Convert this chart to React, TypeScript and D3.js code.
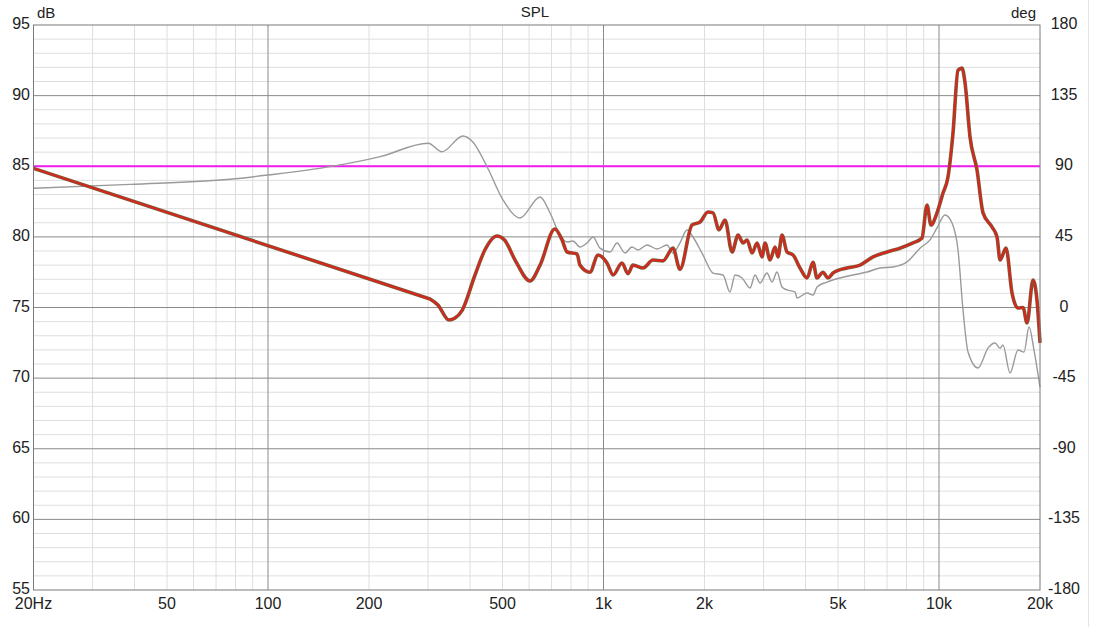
import React from "react";
import * as d3 from "d3";

// SPL trace (red): frequency in Hz, level in dB
const splFreq = [
  20, 304, 321, 346, 361, 379, 414, 443, 481, 507, 545, 604, 647, 716, 752, 779, 834, 851, 911, 963,
  1024, 1068, 1135, 1183, 1224, 1312, 1405, 1504, 1611, 1690, 1836, 1940, 2048, 2120, 2210, 2302,
  2416, 2518, 2606, 2679, 2772, 2869, 2969, 3030, 3136, 3246, 3312, 3404, 3524, 3672, 3852, 4043,
  4212, 4329, 4510, 4668, 4831, 5318, 5815, 6359, 6998, 7648, 8366, 8898, 9208, 9464, 9863, 10278,
  10636, 11008, 11393, 11711, 11956, 12372, 12981, 13528, 14388, 14891, 15202, 15837, 16504, 17200,
  17802, 18294, 19061, 19590, 20000,
];
const splDb = [
  84.85, 75.6, 75.18, 74.12, 74.26, 74.8, 77.3, 79.07, 80.06, 79.78, 78.36, 76.88, 78.0, 80.56, 79.8,
  78.93, 78.79, 78.0, 77.5, 78.72, 78.15, 77.3, 78.15, 77.4, 78.0, 77.8, 78.36, 78.3, 79.2, 77.7,
  80.84, 81.05, 81.76, 81.7, 80.5, 81.2, 78.93, 80.13, 79.57, 79.78, 78.86, 79.57, 78.58, 79.57,
  78.36, 79.28, 78.58, 80.13, 78.93, 78.72, 77.8, 77.09, 78.2, 77.09, 77.5, 77.09, 77.44, 77.8, 78.0,
  78.58, 78.93, 79.2, 79.57, 79.92, 82.26, 80.84, 81.7, 83.1, 84.24, 87.35, 91.8, 91.95, 90.9, 87.07,
  84.73, 81.7, 80.7, 79.99, 78.36, 79.2, 76.03, 74.96, 75.0, 73.9, 76.95, 75.5, 72.5,
];

// second trace (grey)
const refFreq = [
  20, 38.8, 77, 100, 153, 216, 300, 330, 381, 408, 450, 502, 564, 647, 693, 742, 779, 811, 851, 893,
  931, 976, 1046, 1097, 1159, 1216, 1267, 1348, 1444, 1546, 1611, 1690, 1773, 1848, 1979, 2120, 2271,
  2382, 2466, 2588, 2734, 2829, 2928, 3071, 3179, 3290, 3404, 3524, 3722, 3773, 4043, 4212, 4329,
  4636, 5068, 5542, 6102, 6672, 7293, 8030, 8778, 9403, 9863, 10420, 10935, 11393, 11792, 12204,
  13074, 13996, 14688, 15202, 15512, 16276, 17200, 17924, 18550, 19192, 20000,
];
const refDb = [
  83.44, 83.72, 84.08, 84.38, 84.97, 85.68, 86.63, 86.03, 87.14, 86.72, 84.95, 82.61, 81.34, 82.82,
  81.69, 80.13, 79.64, 79.71, 79.28, 79.57, 79.99, 79.2, 78.93, 79.57, 78.86, 79.28, 79.07, 79.43,
  79.14, 79.43, 78.86, 79.57, 80.49, 79.99, 78.72, 77.44, 77.3, 76.1, 77.3, 77.09, 76.38, 77.3,
  76.73, 77.44, 76.8, 77.51, 76.45, 76.24, 76.1, 75.67, 76.03, 75.88, 76.45, 76.8, 77.09, 77.3,
  77.51, 77.8, 77.87, 78.23, 79.2, 79.79, 80.63, 81.55, 80.98, 79.07, 74.82, 71.85, 70.72, 72.12,
  72.49, 72.12, 72.35, 70.36, 71.99, 71.85, 73.62, 71.99, 69.37,
];

const targetDb = 85;

const dbTicks = [95, 90, 85, 80, 75, 70, 65, 60, 55];
const degTicks = [180, 135, 90, 45, 0, -45, -90, -135, -180];
const freqTicks = [20, 50, 100, 200, 500, 1000, 2000, 5000, 10000, 20000];
const freqLabels = ["20Hz", "50", "100", "200", "500", "1k", "2k", "5k", "10k", "20k"];

const W = 1093;
const H = 627;
const left = 33.5;
const right = 1040;
const top = 25;
const bottom = 590;
const font = "'Liberation Sans', Arial, sans-serif";

export default function App() {
  const x = d3.scaleLog().domain([20, 20000]).range([left, right]);
  const y = d3.scaleLinear().domain([55, 95]).range([bottom, top]);
  const yDeg = d3.scaleLinear().domain([-180, 180]).range([bottom, top]);

  // minor verticals: 2..9 of each decade, no extra ones past 10k
  const minorF: number[] = [];
  [10, 100, 1000].forEach((d) => {
    for (let k = 2; k <= 9; k++) {
      const f = d * k;
      if (f > 20 && f < 20000) minorF.push(f);
    }
  });
  const majorF = [100, 1000, 10000];
  const minorDb = d3.range(56, 95).filter((v) => v % 5 !== 0);
  const majorDb = [60, 65, 70, 75, 80, 85, 90];

  const smooth = d3
    .line<[number, number]>()
    .x((d) => x(d[0]))
    .y((d) => y(d[1]))
    .curve(d3.curveMonotoneX);
  const straight = d3
    .line<[number, number]>()
    .x((d) => x(d[0]))
    .y((d) => y(d[1]));

  const spl = splFreq.map((f, i) => [f, splDb[i]] as [number, number]);
  const ref = refFreq.map((f, i) => [f, refDb[i]] as [number, number]);
  // the trace is a straight extrapolation below ~300 Hz
  const splPath = (straight(spl.slice(0, 2)) || "") + (smooth(spl.slice(1)) || "").replace(/^M/, "L");

  return (
    <svg
      width={W}
      height={H}
      style={{ position: "absolute", left: 0, top: 0, background: "#fff" }}
      fontFamily={font}
    >
      <line x1={1088.5} x2={1088.5} y1={0} y2={H} stroke="#e4e4e4" />

      {minorF.map((f) => (
        <line key={"mf" + f} x1={x(f)} x2={x(f)} y1={top} y2={bottom} stroke="#dedede" />
      ))}
      {minorDb.map((v) => (
        <line key={"md" + v} x1={left} x2={right} y1={y(v)} y2={y(v)} stroke="#dedede" />
      ))}
      {majorF.map((f) => (
        <line key={"Mf" + f} x1={x(f)} x2={x(f)} y1={top} y2={bottom} stroke="#8a8a8a" />
      ))}
      {majorDb.map((v) => (
        <line key={"Md" + v} x1={left} x2={right} y1={y(v)} y2={y(v)} stroke="#8a8a8a" />
      ))}

      <line
        x1={left}
        x2={right}
        y1={y(targetDb)}
        y2={y(targetDb)}
        stroke="#f21df2"
        strokeWidth={2}
      />

      <path d={smooth(ref) || ""} fill="none" stroke="#9a9a9a" strokeWidth={1.4} />
      <path d={splPath} fill="none" stroke="#7a5a3a" strokeWidth={3.6} strokeLinejoin="round" />
      <path d={splPath} fill="none" stroke="#d9261c" strokeWidth={2} strokeLinejoin="round" />

      <rect
        x={left}
        y={top}
        width={right - left}
        height={bottom - top}
        fill="none"
        stroke="#7a7a7a"
      />

      <text x={535} y={17} textAnchor="middle" fontSize={15} fill="#222">
        SPL
      </text>
      <text x={37} y={18} fontSize={15} fill="#222">
        dB
      </text>
      <text x={1036} y={18} textAnchor="end" fontSize={15} fill="#222">
        deg
      </text>

      {dbTicks.map((v) => (
        <text
          key={"dt" + v}
          x={30}
          y={y(v) + 4}
          textAnchor="end"
          fontSize={16}
          fill="#222"
        >
          {v}
        </text>
      ))}
      {degTicks.map((v) => (
        <text
          key={"gt" + v}
          x={1064}
          y={yDeg(v) + 4}
          textAnchor="middle"
          fontSize={16}
          fill="#222"
        >
          {v}
        </text>
      ))}
      {freqTicks.map((f, i) => (
        <text
          key={"ft" + f}
          x={x(f)}
          y={609}
          textAnchor="middle"
          fontSize={16}
          fill="#222"
        >
          {freqLabels[i]}
        </text>
      ))}
    </svg>
  );
}
